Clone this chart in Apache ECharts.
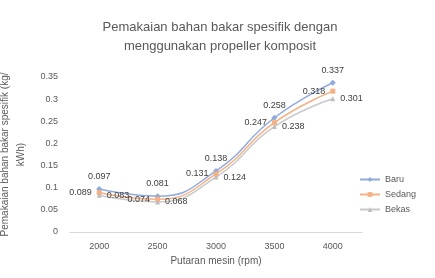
<!DOCTYPE html>
<html>
<head>
<meta charset="utf-8">
<script src="https://cdn.jsdelivr.net/npm/echarts@6/dist/echarts.min.js"></script>
<style>
  html, body { margin: 0; padding: 0; background: #fff; }
  #container { width: 435px; height: 278px; }
</style>
</head>
<body>
<div id="container"></div>
<script>
let dom = document.getElementById("container");
let myChart = echarts.init(dom);

// data
let putaran = ['2000', '2500', '3000', '3500', '4000'];
let baru = [0.097, 0.081, 0.138, 0.258, 0.337];
let sedang = [0.089, 0.074, 0.131, 0.247, 0.318];
let bekas = [0.083, 0.068, 0.124, 0.238, 0.301];
let seriesNames = ['Baru', 'Sedang', 'Bekas'];

let labelStyle = function (pos) {
    return {
        show: true,
        position: pos,
        fontSize: 9,
        color: '#404040',
        fontFamily: 'Liberation Sans',
        formatter: function (p) { return p.value.toFixed(3); }
    };
};

let option = {
    animation: false,
    title: {
        text: 'Pemakaian bahan bakar spesifik dengan\nmenggunakan propeller komposit',
        left: 215,
        textAlign: 'center',
        top: 13,
        textStyle: {
            fontSize: 13,
            fontWeight: 'normal',
            color: '#595959',
            lineHeight: 19,
            fontFamily: 'Liberation Sans'
        }
    },
    legend: {
        orient: 'vertical',
        left: 354,
        top: 170,
        itemGap: 6,
        itemWidth: 20,
        itemHeight: 6,
        textStyle: { fontSize: 9, color: '#595959', fontFamily: 'Liberation Sans' },
        data: seriesNames
    },
    grid: { left: 70, right: 73, top: 77, bottom: 46, outerBoundsMode: 'none', containLabel: false },
    xAxis: {
        type: 'category',
        data: putaran,
        name: 'Putaran mesin (rpm)',
        nameLocation: 'middle',
        nameGap: 22,
        nameTextStyle: { fontSize: 10, color: '#595959', fontFamily: 'Liberation Sans' },
        axisLine: { lineStyle: { color: '#d9d9d9' } },
        axisTick: { show: false },
        axisLabel: { fontSize: 9, color: '#595959', margin: 10, fontFamily: 'Liberation Sans' }
    },
    yAxis: {
        type: 'value',
        min: 0,
        max: 0.35,
        interval: 0.05,
        name: 'Pemakaian bahan bakar spesifik (kg/\nkWh)',
        nameLocation: 'middle',
        nameGap: 38,
        nameTextStyle: { fontSize: 10, color: '#595959', lineHeight: 16, fontFamily: 'Liberation Sans' },
        splitLine: { show: false },
        axisLine: { show: false },
        axisLabel: {
            fontSize: 9,
            color: '#595959',
            margin: 12,
            fontFamily: 'Liberation Sans',
            formatter: function (v) { return v === 0 ? '0' : String(+v.toFixed(2)); }
        }
    },
    series: [{
        name: seriesNames[0],
        type: 'line',
        smooth: true,
        data: baru,
        symbol: 'diamond',
        symbolSize: 6,
        lineStyle: { color: '#8faadc', width: 1.5 },
        itemStyle: { color: '#8faadc' },
        label: labelStyle('top')
    }, {
        name: seriesNames[1],
        type: 'line',
        smooth: true,
        data: sedang,
        symbol: 'rect',
        symbolSize: 5,
        lineStyle: { color: '#f4b183', width: 1.5 },
        itemStyle: { color: '#f4b183' },
        label: labelStyle('left')
    }, {
        name: seriesNames[2],
        type: 'line',
        smooth: true,
        data: bekas,
        symbol: 'triangle',
        symbolSize: 5,
        lineStyle: { color: '#c9c9c9', width: 1.5 },
        itemStyle: { color: '#bfbfbf' },
        label: labelStyle('right')
    }]
};

myChart.setOption(option);
</script>
</body>
</html>
